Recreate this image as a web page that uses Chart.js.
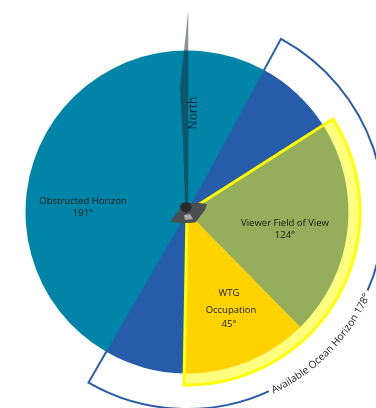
<!DOCTYPE html>
<html>
<head>
<meta charset="utf-8">
<script src="https://cdn.jsdelivr.net/npm/chart.js@4"></script>
<style>
  html, body { margin: 0; padding: 0; background: #fff; overflow: hidden; width: 376px; height: 408px; }
  canvas, svg { position: absolute; left: -13px; top: 12px; }
</style>
</head>
<body>
<canvas id="ringOutline" width="400" height="400"></canvas>
<canvas id="ringField" width="400" height="400"></canvas>
<canvas id="mainPie" width="400" height="400"></canvas>
<canvas id="fieldOutline" width="400" height="400"></canvas>
<canvas id="overlay" width="400" height="400"></canvas>
<svg width="400" height="400" viewBox="-200 -200 400 400">
  <path id="oceanPath" fill="none" d="M 84.9 182.2 A 201 201 0 0 0 183.6 81.8"></path>
  <text font-family="'Open Sans', sans-serif" font-size="10.2" fill="#1a1a1a">
    <textPath href="#oceanPath" startOffset="50%" text-anchor="middle">Available Ocean Horizon 178°</textPath>
  </text>
</svg>
<script>
// slices are in degrees, clockwise
const pieSlices = ["Blue upper", "Viewer Field of View", "WTG Occupation", "Blue lower", "Obstructed Horizon"];
const pieDegrees = [29, 78, 45.5, 29, 178.5];
const pieColors = ["#265CA9", "#94AE5C", "#FFD200", "#265CA9", "#0085A8"];
const pieStart = 28.5;

const fieldDegrees = [123.5, 236.5];
const fieldStart = 57.5;

// last slice is the white gap where the curved label sits
const outlineDegrees = [55, 178.5, 85.5, 41];
const outlineStart = 155;

// needle and viewer outlines, px-like units from the centre, y up
const needleX = [1.3, -7, -4, -2, 1.3];
const needleY = [202, 124, 70, 10, 10];
const bodyX = [-16, -14, -8, -6, 0, 5, 12, 20, 18, 14, 9, 4, -5];
const bodyY = [-10, -5, 1, 8, 9, 9, 9, 8, 2, -3, -10, -11, -11];
const headX = [-7, -5, -1, 3, 5, 3, -1, -5];
const headY = [5, 9, 10, 9, 5, 1, -1, 1];
const chestX = [-3, 3, 6, -2];
const chestY = [-3, -2, -7, -8];

const labels = ["Obstructed Horizon", "191°", "Viewer Field of View", "124°", "WTG", "Occupation", "45°"];
const labelX = [-104, -104, 98, 98, 42, 44, 42];
const labelY = [11, -1, -11.5, -23, -81, -98, -112];

function toPoints(xs, ys) {
  return xs.map((x, i) => ({ x: x, y: ys[i] }));
}

function pieLayer(id, values, start, radius, colors, borders, borderWidth) {
  return new Chart(document.getElementById(id), {
    type: "pie",
    data: {
      datasets: [{
        data: values,
        backgroundColor: colors,
        borderColor: borders,
        borderWidth: borderWidth,
        borderJoinStyle: "miter",
      }]
    },
    options: {
      responsive: false,
      animation: false,
      rotation: start,
      radius: radius,
      plugins: { legend: { display: false }, tooltip: { enabled: false } }
    }
  });
}

const clear = "rgba(0,0,0,0)";

pieLayer("ringOutline", outlineDegrees, outlineStart, 197,
  [clear, clear, clear, "#fff"], ["#2A5CAA", clear, "#2A5CAA", "#fff"], [2, 0, 2, 3]);
pieLayer("ringField", fieldDegrees, fieldStart, 173, ["#FFFF80", clear], [clear, clear], 0);
pieLayer("mainPie", pieDegrees, pieStart, 161.5, pieColors, pieColors, 0);
pieLayer("fieldOutline", fieldDegrees, fieldStart, 173, [clear, clear], ["#FFFF00", clear], [3, 0]);

// text labels on top of everything
const labelPlugin = {
  id: "labelPlugin",
  afterDatasetsDraw(chart) {
    const ctx = chart.ctx;
    const sx = chart.scales.x;
    const sy = chart.scales.y;
    ctx.save();
    ctx.fillStyle = "#10180f";
    ctx.font = "9.5px 'Open Sans', sans-serif";
    ctx.textAlign = "center";
    ctx.textBaseline = "middle";
    labels.forEach((t, i) => {
      ctx.fillText(t, sx.getPixelForValue(labelX[i]), sy.getPixelForValue(labelY[i]));
    });
    ctx.translate(sx.getPixelForValue(7), sy.getPixelForValue(99));
    ctx.rotate(-Math.PI / 2);
    ctx.font = "12px 'Open Sans', sans-serif";
    ctx.fillStyle = "#07222b";
    ctx.fillText("North", 0, 0);
    ctx.restore();
  }
};

function shape(xs, ys, color) {
  return {
    data: toPoints(xs, ys),
    showLine: true,
    fill: "shape",
    backgroundColor: color,
    borderColor: color,
    borderWidth: 0,
    pointRadius: 0,
    tension: 0,
  };
}

new Chart(document.getElementById("overlay"), {
  type: "scatter",
  data: {
    datasets: [
      shape(chestX, chestY, "#a8a8a8"),
      shape(headX, headY, "#2b2b2b"),
      shape(bodyX, bodyY, "#4c4f52"),
      shape(needleX, needleY, "rgba(30,40,45,0.5)"),
    ]
  },
  options: {
    responsive: false,
    animation: false,
    layout: { padding: 0 },
    scales: {
      x: { type: "linear", display: false, min: -200, max: 200 },
      y: { type: "linear", display: false, min: -200, max: 200 },
    },
    plugins: { legend: { display: false }, tooltip: { enabled: false } }
  },
  plugins: [labelPlugin]
});
</script>
</body>
</html>
